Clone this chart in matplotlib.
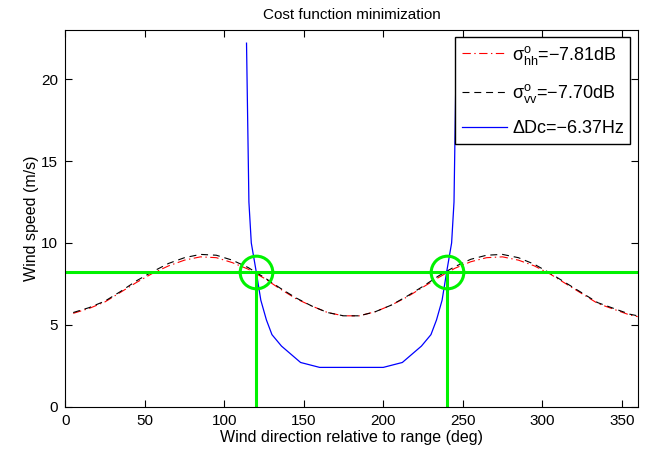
import numpy as np
import matplotlib
matplotlib.use('Agg')
import matplotlib.pyplot as plt

plt.rcParams['font.family'] = ['Liberation Sans', 'DejaVu Sans']
plt.rcParams['mathtext.default'] = 'regular'
plt.rcParams['lines.scale_dashes'] = False

# direction grid (deg) for the two sigma0 curves
wind_dir = [5, 15, 25, 35, 45, 55, 65, 75, 85, 95, 105, 115, 125, 135, 145, 155, 165, 175,
            185, 195, 205, 215, 225, 235, 245, 255, 265, 275, 285, 295, 305, 315, 325, 335,
            345, 355, 360]
speed_hh = [5.7, 6.0, 6.4, 7.0, 7.6, 8.15, 8.6, 8.95, 9.15, 9.1, 8.8, 8.4, 7.85, 7.2, 6.6,
            6.15, 5.75, 5.55, 5.55, 5.8, 6.2, 6.7, 7.3, 7.9, 8.45, 8.85, 9.1, 9.15, 8.95,
            8.6, 8.1, 7.5, 6.9, 6.3, 5.95, 5.6, 5.5]
speed_vv = [5.75, 6.05, 6.45, 7.05, 7.7, 8.25, 8.75, 9.1, 9.3, 9.25, 8.95, 8.5, 7.9, 7.25,
            6.65, 6.15, 5.75, 5.55, 5.55, 5.8, 6.2, 6.75, 7.35, 8.0, 8.55, 9.0, 9.25, 9.3,
            9.1, 8.7, 8.15, 7.55, 6.95, 6.35, 6.0, 5.65, 5.55]

# doppler centroid curve
dc_dir = [114, 115.5, 117, 120, 123, 126.5, 130, 136, 148, 160, 170, 180, 190, 200, 212,
          224, 230, 233.5, 237, 240, 243, 244.5, 246]
dc_speed = [22.2, 12.5, 10.0, 8.3, 6.5, 5.3, 4.4, 3.7, 2.7, 2.4, 2.4, 2.4, 2.4, 2.4, 2.7,
            3.7, 4.4, 5.3, 6.5, 8.3, 10.0, 12.5, 22.2]

# solution
sol_speed = 8.2
sol_dirs = [120, 240]

labels = ['$\\sigma^{o}_{hh}$=\u22127.81dB', '$\\sigma^{o}_{vv}$=\u22127.70dB',
          '\u0394Dc=\u22126.37Hz']

fig = plt.figure(figsize=(6.64, 4.61), dpi=100)
ax = fig.add_axes([0.0983, 0.1178, 0.862, 0.817])

ax.plot(wind_dir, speed_hh, color='r', ls=(0, (6, 2.5, 1, 2.5)), lw=0.8, label=labels[0])
ax.plot(wind_dir, speed_vv, color='k', ls=(0, (5, 3.5)), lw=0.8, label=labels[1])
ax.plot(dc_dir, dc_speed, 'b-', lw=0.9, label=labels[2])

green = (0.0, 0.95, 0.0)
ax.axhline(sol_speed, color=green, lw=2.2)
ax.vlines(sol_dirs, 0, sol_speed, color=green, lw=2.2)
ax.plot(sol_dirs, [sol_speed] * 2, 'o', ms=23.5, mfc='none', mec=green, mew=2.2)

ax.set_xlim(0, 360)
ax.set_ylim(0, 23)
ax.set_xticks(range(0, 351, 50))
ax.set_yticks(range(0, 21, 5))
ax.tick_params(direction='in', top=True, right=True, labelsize=11, length=5, pad=5)
ax.set_title('Cost function minimization', fontsize=11, pad=8)
ax.set_xlabel('Wind direction relative to range (deg)', fontsize=11.5, labelpad=2)
ax.set_ylabel('Wind speed (m/s)', fontsize=11.5, labelpad=2)

leg = ax.legend(loc='upper right', fontsize=13, handlelength=2.5, labelspacing=0.85,
                fancybox=False, framealpha=1, borderpad=0.35, handletextpad=0.3,
                borderaxespad=0.4)
leg.get_frame().set_edgecolor('black')
leg.get_frame().set_linewidth(1.0)

fig.savefig('out.png', dpi=100)
